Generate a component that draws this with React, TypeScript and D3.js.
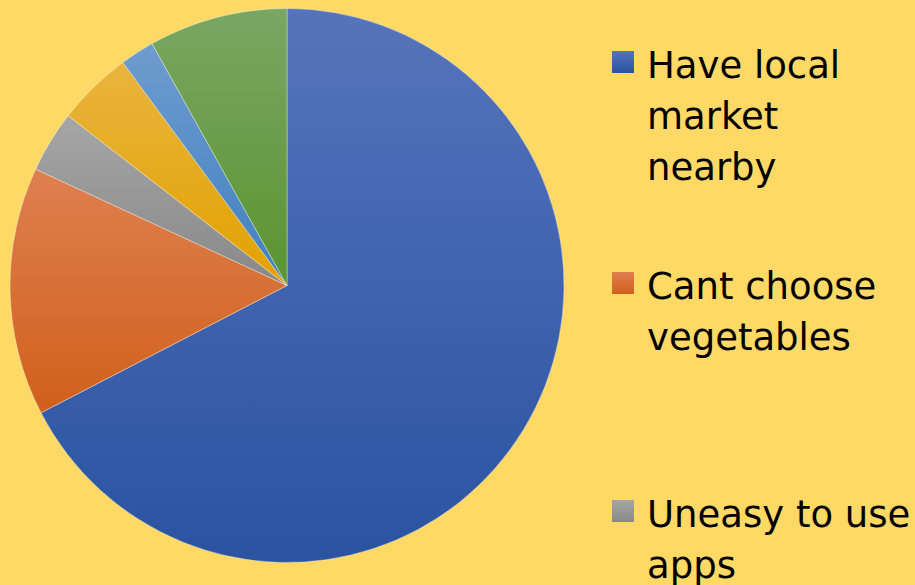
import { useRef, useEffect } from "react";
import * as d3 from "d3";

const categories = [
  "Have local market nearby",
  "Cant choose vegetables",
  "Uneasy to use apps",
  "Delivery takes too long",
  "Prices too high",
  "Other reasons",
];
const shares = [67.4, 14.5, 3.6, 4.4, 2.0, 8.1];
const topColors = ["#5674bc", "#df8050", "#a6a6a6", "#e9b43e", "#6f9ccf", "#7aa763"];
const bottomColors = ["#2a53a0", "#d0601b", "#888888", "#e2a200", "#3f80bf", "#5a9430"];

const W = 915;
const H = 585;

export default function App() {
  const svgRef = useRef<SVGSVGElement | null>(null);

  useEffect(() => {
    const svg = d3.select(svgRef.current);
    svg.selectAll("*").remove();

    svg.append("rect").attr("width", W).attr("height", H).attr("fill", "#FFD966");

    const defs = svg.append("defs");
    categories.forEach((_, i) => {
      const g = defs
        .append("linearGradient")
        .attr("id", `grad${i}`)
        .attr("x1", 0)
        .attr("y1", 0)
        .attr("x2", 0)
        .attr("y2", 1);
      g.append("stop").attr("offset", "0%").attr("stop-color", topColors[i]);
      g.append("stop").attr("offset", "100%").attr("stop-color", bottomColors[i]);
    });

    const cx = 287;
    const cy = 285.5;
    const r = 277;

    const pie = d3
      .pie<number>()
      .sort(null)
      .value((d) => d);
    const arc = d3.arc<d3.PieArcDatum<number>>().innerRadius(0).outerRadius(r);

    svg
      .append("g")
      .attr("transform", `translate(${cx},${cy})`)
      .selectAll("path")
      .data(pie(shares))
      .join("path")
      .attr("d", arc)
      .attr("fill", (_, i) => `url(#grad${i})`)
      .attr("stroke", "#ffffff")
      .attr("stroke-opacity", 0.45)
      .attr("stroke-width", 0.8);

    // legend runs down the right side; only the entries that fit on the page are drawn
    const legendY = d3
      .scaleLinear()
      .domain([0, 1])
      .range([78, 299]);
    const lineH = 51;
    const maxW = 268;
    const legend = svg.append("g").attr("transform", "translate(612,0)");

    categories.forEach((name, i) => {
      const base = i < 2 ? legendY(i) : legendY(i) + 7 * (i - 1);
      if (base > H) return;
      const item = legend.append("g");
      item
        .append("rect")
        .attr("x", 0)
        .attr("y", base - 27)
        .attr("width", 22)
        .attr("height", 22)
        .attr("fill", `url(#grad${i})`);
      const text = item
        .append("text")
        .attr("x", 35)
        .attr("y", base)
        .attr("font-family", "'DejaVu Sans', sans-serif")
        .attr("font-size", 37)
        .attr("fill", "#000");
      // simple word wrap
      const words = name.split(" ");
      let line: string[] = [];
      let lineNo = 0;
      let tspan = text.append("tspan").attr("x", 35).attr("y", base);
      words.forEach((w) => {
        line.push(w);
        tspan.text(line.join(" "));
        const len = (tspan.node() as SVGTSpanElement).getComputedTextLength();
        if (len > maxW && line.length > 1) {
          line.pop();
          tspan.text(line.join(" "));
          line = [w];
          lineNo += 1;
          tspan = text
            .append("tspan")
            .attr("x", 35)
            .attr("y", base + lineNo * lineH)
            .text(w);
        }
      });
    });
  }, []);

  return (
    <div style={{ position: "absolute", top: 0, left: 0 }}>
      <svg ref={svgRef} width={W} height={H} style={{ display: "block" }} />
    </div>
  );
}
